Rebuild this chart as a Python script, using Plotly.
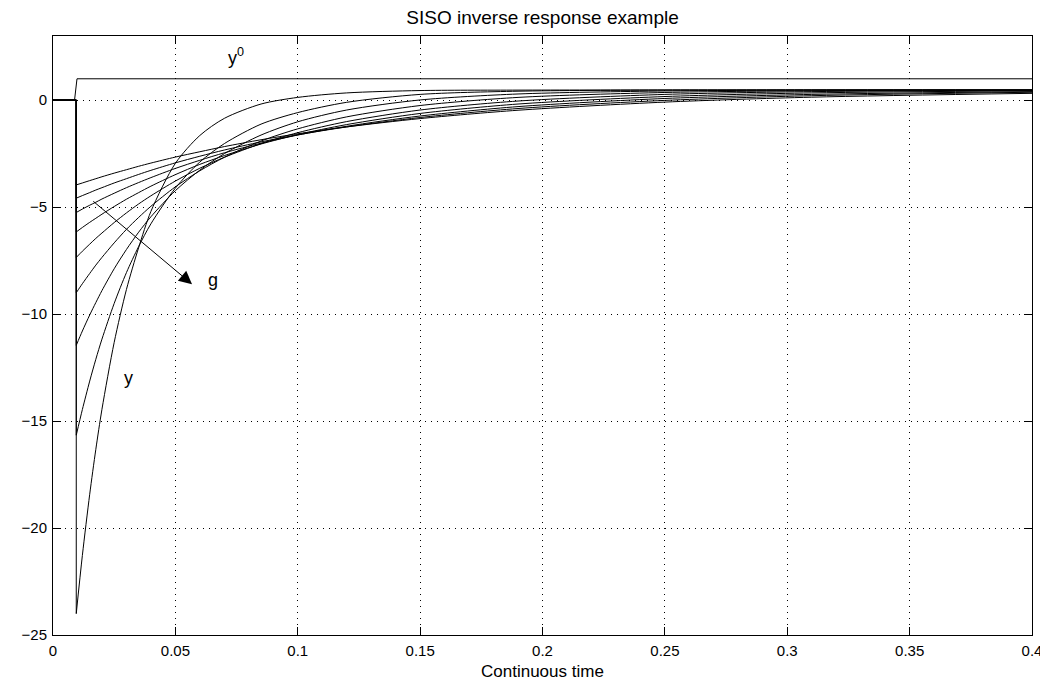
import plotly.graph_objects as go

# ---- data ----
T_REF = [0.0, 0.0088, 0.0098, 0.4]
Y_REF = [0.0, 0.0, 1.0, 1.0]

T_PRE = [0.0, 0.0095]          # responses stay at 0 before the set-point step

T = [0.0095, 0.012, 0.015, 0.0175, 0.02, 0.025, 0.03, 0.035, 0.04, 0.05,
     0.06, 0.07, 0.085, 0.1, 0.12, 0.15, 0.19, 0.25, 0.31, 0.4]

Y_G1 = [-3.96, -3.87, -3.76, -3.67, -3.58, -3.41, -3.25, -3.09, -2.94, -2.66,
        -2.41, -2.17, -1.85, -1.57, -1.25, -0.86, -0.47, -0.09, 0.14, 0.32]
Y_G2 = [-4.58, -4.46, -4.32, -4.20, -4.09, -3.87, -3.67, -3.47, -3.28, -2.93,
        -2.62, -2.33, -1.95, -1.62, -1.25, -0.81, -0.39, -0.01, 0.21, 0.37]
Y_G3 = [-5.25, -5.09, -4.91, -4.77, -4.62, -4.35, -4.09, -3.85, -3.62, -3.19,
        -2.81, -2.46, -2.01, -1.63, -1.22, -0.74, -0.30, 0.08, 0.27, 0.40]
Y_G4 = [-6.16, -5.95, -5.71, -5.52, -5.33, -4.97, -4.63, -4.32, -4.02, -3.48,
        -3.00, -2.59, -2.05, -1.61, -1.14, -0.62, -0.18, 0.17, 0.34, 0.44]
Y_G5 = [-7.35, -7.06, -6.73, -6.46, -6.21, -5.72, -5.27, -4.85, -4.47, -3.78,
        -3.18, -2.67, -2.03, -1.52, -1.00, -0.46, -0.04, 0.27, 0.40, 0.46]
Y_G6 = [-9.00, -8.58, -8.10, -7.71, -7.35, -6.67, -6.04, -5.48, -4.96, -4.05,
        -3.30, -2.67, -1.91, -1.34, -0.78, -0.25, 0.13, 0.36, 0.44, 0.47]
Y_G7 = [-11.46, -10.79, -10.04, -9.46, -8.90, -7.88, -6.98, -6.17, -5.45, -4.23,
        -3.27, -2.50, -1.63, -1.01, -0.46, 0.01, 0.29, 0.43, 0.47, 0.48]
Y_G8 = [-15.66, -14.46, -13.13, -12.11, -11.17, -9.50, -8.06, -6.84, -5.78, -4.11,
        -2.89, -2.03, -1.12, -0.58, -0.10, 0.27, 0.42, 0.47, 0.48, 0.48]
Y_G9 = [-24.00, -21.28, -18.42, -16.32, -14.45, -11.32, -8.85, -6.89, -5.20, -2.95,
        -1.65, -0.85, -0.18, 0.13, 0.34, 0.45, 0.47, 0.48, 0.48, 0.48]

RESPONSES = [Y_G1, Y_G2, Y_G3, Y_G4, Y_G5, Y_G6, Y_G7, Y_G8, Y_G9]

X_TICKS = [0, 0.05, 0.1, 0.15, 0.2, 0.25, 0.3, 0.35, 0.4]
X_TICK_LABELS = ["0", "0.05", "0.1", "0.15", "0.2", "0.25", "0.3", "0.35", "0.4"]
Y_TICKS = [-25, -20, -15, -10, -5, 0]
Y_TICK_LABELS = ["\u221225", "\u221220", "\u221215", "\u221210", "\u22125", "0"]

FONT = "Liberation Sans, Arial, Helvetica, sans-serif"
LINE = dict(color="black", width=1)

# the page body sits 8 px in from the window's top-left corner
FIG_W, FIG_H = 1040, 674
M_L, M_R, M_T, M_B = 45, 16, 28, 47
PLOT_H = FIG_H - M_T - M_B

fig = go.Figure()

# set-point y0
fig.add_trace(go.Scatter(x=T_REF, y=Y_REF, mode="lines", line=LINE,
                         hoverinfo="skip", showlegend=False))

for ys in RESPONSES:
    # flat part and the instantaneous inverse jump
    fig.add_trace(go.Scatter(x=T_PRE + [T[0]], y=[0.0, 0.0, ys[0]], mode="lines",
                             line=LINE, hoverinfo="skip", showlegend=False))
    # recovery
    fig.add_trace(go.Scatter(x=T, y=ys, mode="lines",
                             line=dict(color="black", width=1, shape="spline",
                                       smoothing=0.8),
                             hoverinfo="skip", showlegend=False))

axis_common = dict(
    showline=True, linecolor="black", linewidth=1, mirror="ticks",
    ticks="inside", ticklen=8, tickwidth=1, tickcolor="black",
    showgrid=True, gridcolor="black", gridwidth=1, griddash="1px,5px",
    zeroline=False, automargin=False,
    tickfont=dict(family=FONT, size=15, color="black"),
)

fig.update_xaxes(range=[0, 0.4], tickvals=X_TICKS, ticktext=X_TICK_LABELS,
                 ticklabelstandoff=2, **axis_common)
fig.update_yaxes(range=[-25, 3], tickvals=Y_TICKS, ticktext=Y_TICK_LABELS,
                 ticklabelstandoff=2, **axis_common)

# x-axis label
fig.add_annotation(x=0.5, y=-36 / PLOT_H, xref="paper", yref="paper",
                   text="Continuous time", showarrow=False,
                   xanchor="center", yanchor="middle",
                   font=dict(family=FONT, size=17, color="black"))

fig.add_annotation(x=0.0568, y=-8.6, ax=0.01586, ay=-4.67, axref="x", ayref="y",
                   xref="x", yref="y", text="", showarrow=True,
                   arrowhead=2, arrowsize=2.6, arrowwidth=1, arrowcolor="black")
fig.add_annotation(x=0.0653, y=-8.41, text="g", showarrow=False,
                   font=dict(family=FONT, size=18, color="black"))
fig.add_annotation(x=0.0309, y=-13.0, text="y", showarrow=False,
                   font=dict(family=FONT, size=18, color="black"))
fig.add_annotation(x=0.0746, y=2.05, text="y<sup>0</sup>", showarrow=False,
                   font=dict(family=FONT, size=18, color="black"))

fig.update_layout(
    width=FIG_W, height=FIG_H,
    margin=dict(l=M_L, r=M_R, t=M_T, b=M_B, autoexpand=False),
    paper_bgcolor="white", plot_bgcolor="white",
    title=dict(text="SISO inverse response example", x=(M_L + 489.5) / FIG_W,
               xanchor="center", y=1 - 9 / FIG_H, yanchor="middle",
               yref="container",
               font=dict(family=FONT, size=19, color="black")),
    font=dict(family=FONT, color="black"),
)

fig.write_html("out.html")
